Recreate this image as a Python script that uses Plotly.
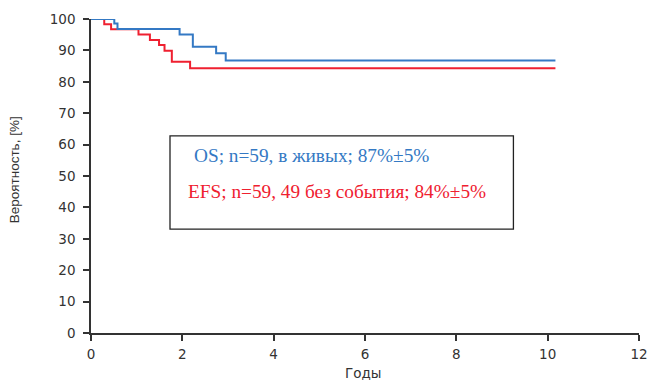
import plotly.graph_objects as go

# Kaplan-Meier step data (years, %)
os_time = [0, 0.51, 0.58, 1.94, 2.23, 2.74, 2.95, 10.17]
os_surv = [100, 98.6, 96.8, 95.1, 91.2, 89.1, 86.8, 86.8]

efs_time = [0, 0.29, 0.44, 1.04, 1.29, 1.49, 1.61, 1.77, 2.17, 10.17]
efs_surv = [100, 98.3, 96.7, 95.1, 93.3, 91.7, 89.9, 86.4, 84.3, 84.3]

x_ticks = [0, 2, 4, 6, 8, 10, 12]
y_ticks = [0, 10, 20, 30, 40, 50, 60, 70, 80, 90, 100]

os_label = "OS; n=59, в живых; 87%±5%"
efs_label = "EFS; n=59, 49 без события; 84%±5%"
x_title = "Годы"
y_title = "Вероятность, [%]"

BLUE = "#3479c4"
RED = "#ef2030"

fig = go.Figure()
fig.add_trace(go.Scatter(x=efs_time, y=efs_surv, mode="lines", line=dict(color=RED, width=2, shape="hv"),
                         showlegend=False, cliponaxis=False))
fig.add_trace(go.Scatter(x=os_time, y=os_surv, mode="lines", line=dict(color=BLUE, width=2, shape="hv"),
                         showlegend=False, cliponaxis=False))

fig.add_shape(type="rect", xref="x", yref="y", x0=1.73, x1=9.25, y0=33.1, y1=62.8,
              line=dict(color="#222", width=1.3), fillcolor="rgba(0,0,0,0)")
fig.add_annotation(x=2.21, y=56.4, xref="x", yref="y", text=os_label, showarrow=False,
                   xanchor="left", yanchor="middle",
                   font=dict(family="Liberation Serif", size=19.3, color=BLUE))
fig.add_annotation(x=2.08, y=45.2, xref="x", yref="y", text=efs_label, showarrow=False,
                   xanchor="left", yanchor="middle",
                   font=dict(family="Liberation Serif", size=19.3, color=RED))

tick_font = dict(family="DejaVu Sans", size=13.5, color="#333")
fig.add_annotation(x=0.497, y=-0.128, xref="paper", yref="paper", text=x_title, showarrow=False,
                   xanchor="center", yanchor="middle",
                   font=dict(family="DejaVu Sans", size=13.5, color="#333"))
fig.add_annotation(x=-0.14, y=0.519, xref="paper", yref="paper", text=y_title, showarrow=False,
                   textangle=-90, xanchor="center", yanchor="middle",
                   font=dict(family="Liberation Sans", size=13.5, color="#333"))

fig.update_layout(
    width=647, height=380,
    margin=dict(l=91, r=8.3, t=19, b=47.3, autoexpand=False),
    paper_bgcolor="white", plot_bgcolor="white",
    xaxis=dict(range=[0, 12], tickvals=x_ticks, showgrid=False, zeroline=False, automargin=False,
               showline=True, linecolor="#333", linewidth=1.5, ticks="outside", ticklen=6,
               tickcolor="#333", tickwidth=1.5, tickfont=tick_font, ticklabelstandoff=2,
               ticklabeloverflow="allow"),
    yaxis=dict(range=[0, 100], tickvals=y_ticks, showgrid=False, zeroline=False, automargin=False,
               showline=True, linecolor="#333", linewidth=1.5, ticks="outside", ticklen=6,
               tickcolor="#333", tickwidth=1.5, tickfont=tick_font, ticklabelstandoff=5,
               ticklabeloverflow="allow"),
)

# remove the default 8px page margin so the 647x380 figure fills the window exactly
fig.write_html("out.html", config={"displayModeBar": False},
               post_script="document.body.style.margin='0';document.body.style.overflow='hidden';")
